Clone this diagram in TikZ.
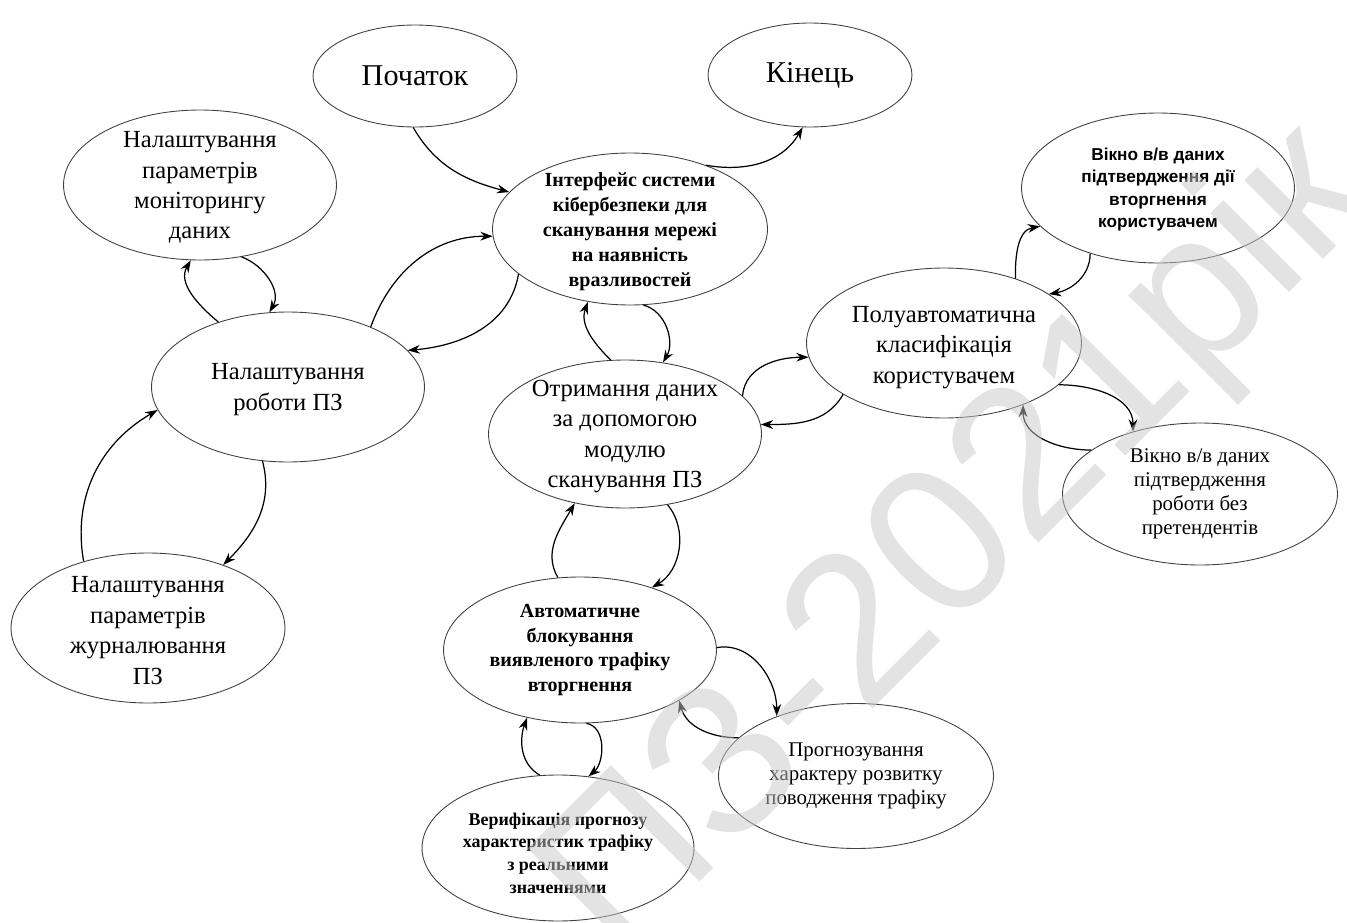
\documentclass[tikz,border=0pt]{standalone}
\usepackage{fontspec}
\setmainfont{Liberation Serif}
\newfontfamily\sansf{Liberation Sans}
\usetikzlibrary{shapes.geometric, arrows.meta}
\tikzstyle{oval} = [ellipse, draw=black!75, line width=0.5pt, inner sep=0pt, minimum width=5.46cm, minimum height=3cm]
\tikzstyle{arrow} = [line width=0.7pt, -{Stealth[length=7pt, width=5pt]}]
\tikzstyle{tbig} = [align=center, font=\fontsize{17.2}{20}\selectfont]
\tikzstyle{tmid} = [align=center, yshift=-1.5pt, font=\fontsize{14}{17.3}\selectfont]
\tikzstyle{tsml} = [align=center, font=\bfseries\fontsize{11.4}{14.2}\selectfont]
\tikzstyle{tsmb} = [align=center, font=\fontsize{11.9}{13.7}\selectfont]
\tikzstyle{ttny} = [align=center, font=\bfseries\fontsize{10.2}{13}\selectfont]
\tikzstyle{tsan} = [align=center, font=\sansf\bfseries\fontsize{9.8}{12.8}\selectfont]

\begin{document}
\begin{tikzpicture}[x=0.02cm, y=-0.02cm]
        \useasboundingbox (0,0) rectangle (1347,923);

        % ovals
        \node (start) [oval, minimum width=4.08cm, minimum height=2.04cm, label={[tbig]center:Початок}] at (415,76) {};
        \node (finish) [oval, minimum width=4.08cm, minimum height=2.08cm, label={[tbig]center:Кінець}] at (810,75) {};
        \node (monitor) [oval, label={[tmid]center:{Налаштування\\параметрів\\моніторингу\\даних}}] at (200,185) {};
        \node (iface) [oval, minimum width=5.5cm, minimum height=3.04cm, label={[tsml, yshift=-1.5pt]center:{Інтерфейс системи\\кібербезпеки для\\сканування мережі\\на наявність\\вразливостей}}] at (630,229) {};
        \node (work) [oval, label={[tmid]center:{Налаштування\\роботи ПЗ}}] at (288,387) {};
        \node (scan) [oval, minimum height=2.96cm, label={[tmid]center:{Отримання даних\\за допомогою\\модулю\\сканування ПЗ}}] at (625,434) {};
        \node (semi) [oval, minimum width=5.5cm, label={[tmid, yshift=-1pt]center:{Полуавтоматична\\класифікація\\користувачем}}] at (944,343) {};
        \node (confirm) [oval, label={[tsan, yshift=-1pt]center:{Вікно в/в даних\\підтвердження дії\\вторгнення\\користувачем}}] at (1158,188) {};
        \node (noclaim) [oval, minimum width=5.5cm, minimum height=2.84cm, label={[tsmb]center:{Вікно в/в даних\\підтвердження\\роботи без\\претендентів}}] at (1200,494) {};
        \node (journal) [oval, minimum width=5.48cm, label={[tmid]center:{Налаштування\\параметрів\\журналювання\\ПЗ}}] at (148,628) {};
        \node (block) [oval, minimum height=2.92cm, label={[tsml]center:{Автоматичне\\блокування\\виявленого трафіку\\вторгнення}}] at (580,650) {};
        \node (forecast) [oval, minimum width=5.5cm, minimum height=2.9cm, label={[tsmb]center:{Прогнозування\\характеру розвитку\\поводження трафіку}}] at (856,776) {};
        \node (verify) [oval, minimum width=5.44cm, minimum height=2.92cm, label={[ttny, yshift=-3pt]center:{Верифікація прогнозу\\характеристик трафіку\\з реальними\\значеннями}}] at (558,848) {};

        % connectors
        \draw [arrow] (start.268) to[out=-60, in=165] (iface.163);
        \draw [arrow] (iface.40) to[out=-10, in=-120] (finish.262);
        \draw [arrow] (work.36) to[out=70, in=180] (iface.183);
        \draw [arrow] (iface.202) to[out=-100, in=5] (work.17);
        \draw [arrow] (work.137) to[out=140, in=-120] (monitor.263);
        \draw [arrow] (monitor.-60) to[out=-20, in=60] (work.104);
        \draw [arrow] (journal.134) to[out=100, in=210] (work.190);
        \draw [arrow] (work.251) to[out=-75, in=45] (journal.40);
        \draw [arrow] (scan.101) to[out=135, in=-110] (iface.240);
        \draw [arrow] (iface.280) to[out=-15, in=60] (scan.62);
        \draw [arrow] (scan.18) to[out=85, in=180] (semi.186);
        \draw [arrow] (semi.207) to[out=-120, in=0] (scan.4);
        \draw [arrow] (semi.42) to[out=92, in=190] (confirm.198);
        \draw [arrow] (confirm.224) to[out=-90, in=10] (semi.25);
        \draw [arrow] (semi.-20) to[out=0, in=90] (noclaim.137);
        \draw [arrow] (noclaim.158) to[out=180, in=-90] (semi.-38);
        \draw [arrow] (scan.-59) to[out=-50, in=30] (block.41);
        \draw [arrow] (block.107) to[out=120, in=-120] (scan.234);
        \draw [arrow] (block.1) to[out=10, in=90] (forecast.143);
        \draw [arrow] (forecast.162) to[out=180, in=-75] (block.-27);
        \draw [arrow] (block.-85) to[out=-10, in=40] (verify.67);
        \draw [arrow] (verify.104) to[out=150, in=-110] (block.232);

        % watermark
        \node (mark) [rotate=45, text=black!22, text opacity=0.5, font=\sansf\fontsize{120}{120}\selectfont] at (960,545) {ПЗ-2021рік};

    \end{tikzpicture}
\end{document}
